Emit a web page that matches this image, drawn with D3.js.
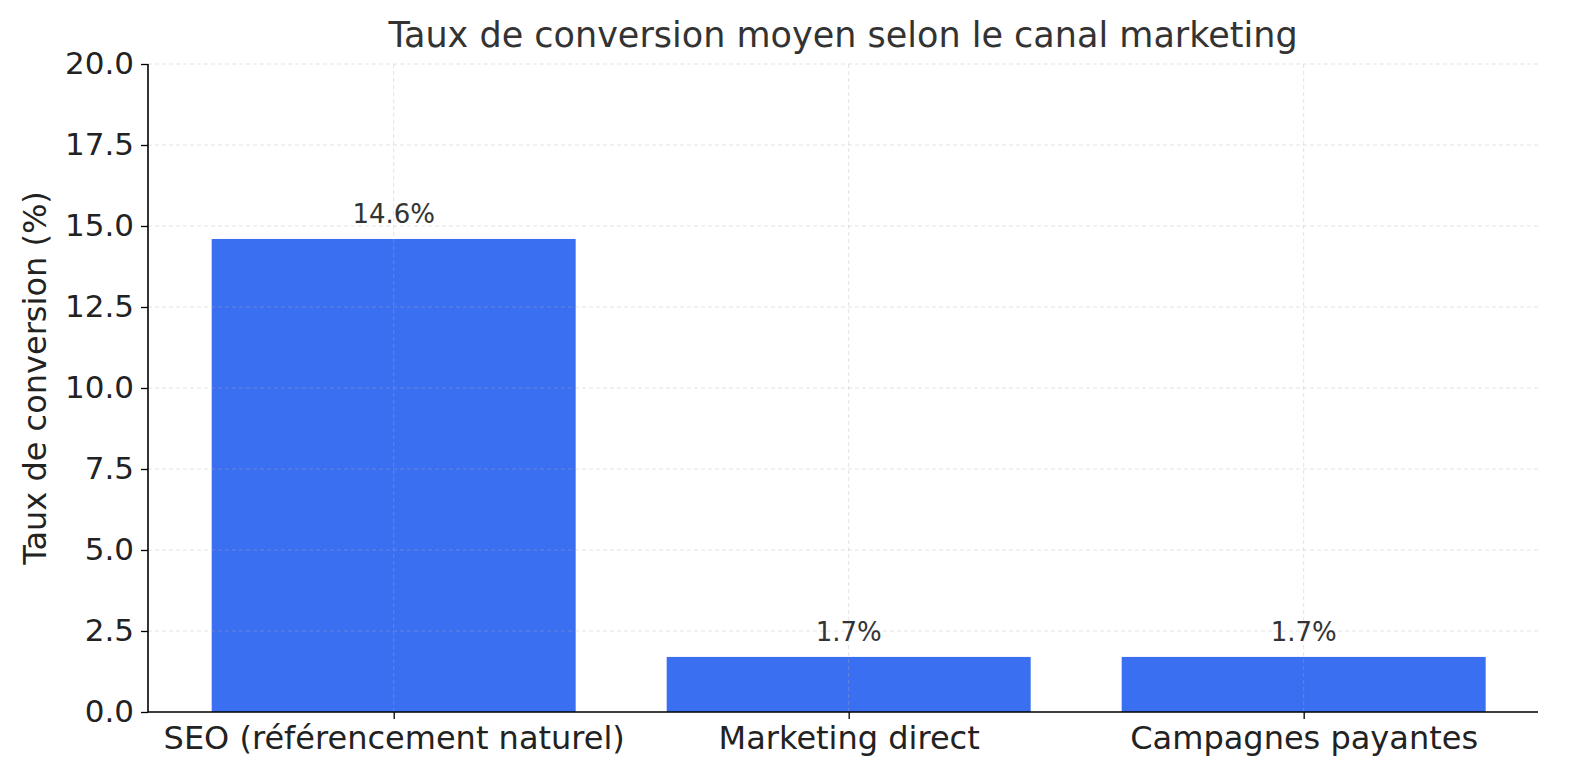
<!DOCTYPE html>
<html><head><meta charset="utf-8">
<script src="https://cdn.jsdelivr.net/npm/d3@7"></script>
<style>body{margin:0;background:#fff;font-family:"DejaVu Sans",sans-serif;}</style>
</head><body>
<svg id="chart" width="1580" height="780"></svg>
<script>
var categories = ["SEO (référencement naturel)", "Marketing direct", "Campagnes payantes"];
var values = [14.6, 1.7, 1.7];
var yTicks = [0, 2.5, 5, 7.5, 10, 12.5, 15, 17.5, 20];

var margin = {top: 64, right: 42, bottom: 68, left: 148};
var w = 1580 - margin.left - margin.right,
    h = 780 - margin.top - margin.bottom;

var svg = d3.select("#chart");
var g = svg.append("g").attr("transform", "translate(" + margin.left + "," + margin.top + ")");

// matplotlib style index axis
var x = d3.scaleLinear().domain([-0.54, 2.515]).range([0, w]);
var y = d3.scaleLinear().domain([0, 20]).range([h, 0]);
var barW = x(0.8) - x(0);

g.selectAll(".bar").data(values).enter().append("rect")
  .attr("x", function(d, i) { return x(i) - barW / 2; })
  .attr("y", function(d) { return y(d); })
  .attr("width", barW)
  .attr("height", function(d) { return h - y(d); })
  .attr("fill", "#3b6ff2");

// grid on top
g.selectAll(".hg").data(yTicks).enter().append("line")
  .attr("x1", 0).attr("x2", w)
  .attr("y1", function(d) { return y(d); }).attr("y2", function(d) { return y(d); })
  .attr("stroke", "#b0b0b0").attr("stroke-opacity", 0.35).attr("stroke-dasharray", "4,3");
g.selectAll(".vg").data(categories).enter().append("line")
  .attr("x1", function(d, i) { return x(i); }).attr("x2", function(d, i) { return x(i); })
  .attr("y1", 0).attr("y2", h)
  .attr("stroke", "#b0b0b0").attr("stroke-opacity", 0.35).attr("stroke-dasharray", "4,3");

g.selectAll(".lbl").data(values).enter().append("text")
  .attr("x", function(d, i) { return x(i); })
  .attr("y", function(d) { return y(d) - 16; })
  .attr("text-anchor", "middle").attr("font-size", 26).attr("fill", "#333")
  .text(function(d) { return d.toFixed(1) + "%"; });

var yAxis = g.append("g").call(d3.axisLeft(y).tickValues(yTicks).tickFormat(d3.format(".1f")).tickSize(7).tickPadding(7));
var xAxis = g.append("g").attr("transform", "translate(0," + h + ")")
  .call(d3.axisBottom(x).tickValues([0, 1, 2]).tickFormat(function(d) { return categories[d]; }).tickSize(7).tickPadding(7));
[yAxis, xAxis].forEach(function(a) {
  a.selectAll("text").attr("font-size", 31).attr("fill", "#222").style("font-family", "DejaVu Sans");
  a.select(".domain").attr("stroke", "#000").attr("stroke-width", 1.6);
  a.selectAll(".tick line").attr("stroke", "#000").attr("stroke-width", 1.3);
});
xAxis.selectAll("text").attr("font-size", 32);
xAxis.select(".domain").attr("d", "M0,0H" + w);
yAxis.select(".domain").attr("d", "M0," + h + "V0");

svg.append("text").attr("x", margin.left + w / 2).attr("y", 47)
  .attr("text-anchor", "middle").attr("font-size", 35).attr("fill", "#333")
  .text("Taux de conversion moyen selon le canal marketing");
svg.append("text").attr("transform", "translate(46," + (margin.top + h / 2 - 10) + ") rotate(-90)")
  .attr("text-anchor", "middle").attr("font-size", 32).attr("fill", "#222")
  .text("Taux de conversion (%)");
</script>
</body></html>
